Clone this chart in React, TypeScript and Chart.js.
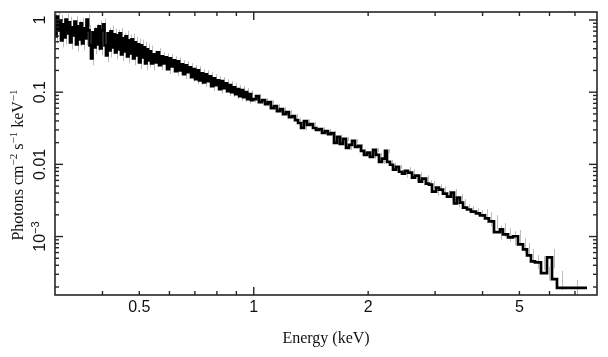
import React, { useEffect, useRef } from "react";
import { Chart, registerables } from "chart.js";
Chart.register(...registerables);

// Bin edges (keV): left edge of each bin, final entry = right edge of the last bin
const binEdges = [
  0.3, 0.3027, 0.3055, 0.3083, 0.3111, 0.3139, 0.3168, 0.3197, 0.3226, 0.3256, 0.3285, 0.3315,
  0.3346, 0.3376, 0.3407, 0.3438, 0.347, 0.3501, 0.3533, 0.3565, 0.3598, 0.3631, 0.3664, 0.3698,
  0.3731, 0.3765, 0.38, 0.3834, 0.3869, 0.3905, 0.394, 0.3976, 0.4013, 0.4049, 0.4086, 0.4124,
  0.4161, 0.4199, 0.4238, 0.4276, 0.4315, 0.4355, 0.4395, 0.4435, 0.4475, 0.4516, 0.4557, 0.4599,
  0.4641, 0.4683, 0.4726, 0.4769, 0.4813, 0.4857, 0.4901, 0.4946, 0.4991, 0.5037, 0.5083, 0.5129,
  0.5176, 0.5223, 0.5271, 0.5319,
  0.5367, 0.5432, 0.5499, 0.5566, 0.5634, 0.5703, 0.5772, 0.5843, 0.5914, 0.5986, 0.6059, 0.6133,
  0.6208, 0.6284, 0.6361, 0.6438, 0.6517, 0.6596, 0.6677, 0.6758, 0.6841, 0.6924, 0.7009, 0.7094,
  0.7181, 0.7268, 0.7357, 0.7447, 0.7537, 0.7629, 0.7723, 0.7817, 0.7912, 0.8009, 0.8106, 0.8205,
  0.8306, 0.8407, 0.8509, 0.8613, 0.8718, 0.8825, 0.8932, 0.9041, 0.9151, 0.9263, 0.9376, 0.949,
  0.9606, 0.9723, 0.9842, 0.9962,
  1.014, 1.032, 1.051, 1.071, 1.09, 1.11, 1.131, 1.151, 1.173, 1.194, 1.216, 1.238, 1.261, 1.284,
  1.308, 1.332, 1.356, 1.381, 1.406, 1.432, 1.458, 1.485, 1.512, 1.54, 1.568, 1.597, 1.626, 1.656,
  1.686, 1.717, 1.749, 1.781, 1.814, 1.847, 1.881, 1.915, 1.95, 1.986, 2.022, 2.06, 2.097, 2.136,
  2.175, 2.215, 2.242, 2.283, 2.325, 2.368, 2.411, 2.455, 2.5, 2.546, 2.609, 2.657, 2.722, 2.772,
  2.84, 2.892, 2.945, 3.017, 3.072, 3.147, 3.224, 3.303, 3.364, 3.426, 3.489, 3.553, 3.64, 3.729,
  3.843, 3.938, 4.059, 4.158, 4.286, 4.445, 4.526, 4.666, 4.809, 4.957, 5.11, 5.235, 5.363, 5.495,
  5.698, 5.909, 6.091, 6.278, 6.67, 7.53,
];

// Flux (photons cm^-2 s^-1 keV^-1) in each bin
const flux = [
  1.049, 0.592, 1.117, 0.716, 0.984, 0.521, 0.867, 0.573, 1.016, 0.651, 0.924, 0.489,
  0.788, 0.611, 0.953, 0.459, 0.813, 0.538, 0.895, 0.474, 0.763, 0.555, 1.016, 0.716,
  0.445, 0.294, 0.672, 0.417, 0.739, 0.459, 0.813, 0.404, 0.716, 0.867, 0.445, 0.324,
  0.651, 0.379, 0.694, 0.417, 0.631, 0.356, 0.611, 0.392, 0.651, 0.334, 0.555, 0.368,
  0.592, 0.313, 0.521, 0.345, 0.538, 0.294, 0.489, 0.324, 0.459, 0.259, 0.445, 0.304,
  0.417, 0.251, 0.392, 0.276,
  0.368, 0.251, 0.334, 0.259, 0.356, 0.236, 0.313, 0.251, 0.304, 0.208, 0.294, 0.228,
  0.276, 0.195, 0.267, 0.201, 0.243, 0.177, 0.236, 0.189, 0.221, 0.161, 0.208, 0.151,
  0.201, 0.146, 0.183, 0.137, 0.177, 0.142, 0.166, 0.121, 0.156, 0.125, 0.146, 0.11,
  0.142, 0.114, 0.133, 0.103, 0.125, 0.1, 0.117, 0.0939, 0.11, 0.0881, 0.107, 0.0853,
  0.1, 0.0801, 0.0939, 0.0776,
  0.0801, 0.0881, 0.0728, 0.0776, 0.0683, 0.0728, 0.0601, 0.0641, 0.0547, 0.0583, 0.0497, 0.053,
  0.0452, 0.0467, 0.0411, 0.0374, 0.0319, 0.0398, 0.0351, 0.0362, 0.0319, 0.0299, 0.0309, 0.0272,
  0.029, 0.0263, 0.0272, 0.0198, 0.024, 0.0192, 0.0225, 0.0169, 0.0186, 0.0211, 0.0174, 0.018,
  0.0154, 0.0135, 0.0145, 0.0127, 0.0159, 0.0135, 0.0108, 0.012, 0.0154, 0.0108, 0.00988, 0.00843,
  0.00925, 0.0079, 0.00742, 0.00816, 0.00766, 0.00653, 0.00696, 0.00576, 0.00633, 0.0054, 0.00524,
  0.00419, 0.00476, 0.00447, 0.00393, 0.00358, 0.00406, 0.00287, 0.00347, 0.00296, 0.00252,
  0.00237, 0.00222, 0.00209, 0.00196, 0.00178, 0.00162, 0.00115, 0.00126, 0.00107, 0.000975,
  0.00101, 0.000779, 0.000665, 0.00055, 0.000454, 0.00044, 0.000312, 0.000516, 0.000257, 0.000194,
];

// Fractional 1-sigma error by energy band
const errBandUpper = [0.55, 1.0, 2.5, 4.0, 6.0, 100];
const errBandFrac = [0.2, 0.14, 0.07, 0.12, 0.22, 0.3];

const xMin = 0.3;
const xMax = 8;
const yMin = 1.55e-4;
const yMax = 1.29;

const xMajorTicks = [1];
const xMinorTicks = [0.4, 0.5, 0.6, 0.7, 0.8, 0.9, 2, 3, 4, 5, 6, 7];
const xLabelValues = [0.5, 1, 2, 5];
const xLabels = ["0.5", "1", "2", "5"];

const yMajorTicks = [0.001, 0.01, 0.1, 1];
const yMinorDecades = [0.0001, 0.001, 0.01, 0.1];
const yMinorMultipliers = [2, 3, 4, 5, 6, 7, 8, 9];
const yLabelValues = [0.001, 0.01, 0.1, 1];
type Part = { t: string; sup?: boolean };
const yLabels: Part[][] = [
  [{ t: "10" }, { t: "\u22123", sup: true }],
  [{ t: "0.01" }],
  [{ t: "0.1" }],
  [{ t: "1" }],
];

const xTitle = "Energy (keV)";
const yTitle: Part[] = [
  { t: "Photons cm" },
  { t: "\u22122", sup: true },
  { t: " s" },
  { t: "\u22121", sup: true },
  { t: " keV" },
  { t: "\u22121", sup: true },
];

const SANS = "'Liberation Sans', Arial, Helvetica, sans-serif";
const SERIF = "'Liberation Serif', 'Times New Roman', serif";

function drawRich(ctx: CanvasRenderingContext2D, parts: Part[], font: string, supFont: string, rise: number) {
  const widths = parts.map((p) => {
    ctx.font = p.sup ? supFont : font;
    return ctx.measureText(p.t).width;
  });
  const total = widths.reduce((a, b) => a + b, 0);
  let x = -total / 2;
  ctx.textAlign = "left";
  ctx.textBaseline = "alphabetic";
  parts.forEach((p, i) => {
    ctx.font = p.sup ? supFont : font;
    ctx.fillText(p.t, x, p.sup ? -rise : 0);
    x += widths[i];
  });
}

const framePlugin = {
  id: "spectrumFrame",
  beforeDatasetsDraw(chart: any) {
    const { ctx, chartArea: a, scales } = chart;
    const xs = scales.x;
    const ys = scales.y;
    ctx.save();
    ctx.beginPath();
    ctx.rect(a.left, a.top, a.right - a.left, a.bottom - a.top);
    ctx.clip();
    ctx.strokeStyle = "#bdbdbd";
    ctx.lineWidth = 1;
    for (let i = 0; i < flux.length; i++) {
      const c = Math.sqrt(binEdges[i] * binEdges[i + 1]);
      let f = errBandFrac[errBandFrac.length - 1];
      for (let k = 0; k < errBandUpper.length; k++) {
        if (c <= errBandUpper[k]) { f = errBandFrac[k]; break; }
      }
      const px = Math.round(xs.getPixelForValue(c)) + 0.5;
      const y1 = ys.getPixelForValue(flux[i] * (1 + f));
      const y2 = ys.getPixelForValue(flux[i] * (1 - f));
      ctx.beginPath();
      ctx.moveTo(px, y1);
      ctx.lineTo(px, y2);
      ctx.stroke();
    }
    ctx.restore();
  },
  afterDatasetsDraw(chart: any) {
    const { ctx, chartArea: a, scales } = chart;
    const xs = scales.x;
    const ys = scales.y;
    ctx.save();
    ctx.strokeStyle = "#262626";
    ctx.lineWidth = 1.6;
    ctx.strokeRect(a.left, a.top, a.right - a.left, a.bottom - a.top);

    const tick = (x1: number, y1: number, x2: number, y2: number) => {
      ctx.beginPath();
      ctx.moveTo(x1, y1);
      ctx.lineTo(x2, y2);
      ctx.stroke();
    };
    ctx.lineWidth = 1.4;
    xMinorTicks.forEach((v) => {
      const p = xs.getPixelForValue(v);
      tick(p, a.bottom, p, a.bottom - 4);
      tick(p, a.top, p, a.top + 4);
    });
    xMajorTicks.forEach((v) => {
      const p = xs.getPixelForValue(v);
      tick(p, a.bottom, p, a.bottom - 8);
      tick(p, a.top, p, a.top + 8);
    });
    yMinorDecades.forEach((d) => {
      yMinorMultipliers.forEach((m) => {
        const v = d * m;
        if (v < yMin || v > yMax) return;
        const p = ys.getPixelForValue(v);
        tick(a.left, p, a.left + 4, p);
        tick(a.right, p, a.right - 4, p);
      });
    });
    yMajorTicks.forEach((v) => {
      const p = ys.getPixelForValue(v);
      tick(a.left, p, a.left + 8, p);
      tick(a.right, p, a.right - 8, p);
    });

    ctx.fillStyle = "#111";
    ctx.font = `16px ${SANS}`;
    ctx.textAlign = "center";
    ctx.textBaseline = "alphabetic";
    xLabelValues.forEach((v, i) => {
      ctx.fillText(xLabels[i], xs.getPixelForValue(v), a.bottom + 17);
    });

    yLabelValues.forEach((v, i) => {
      const p = ys.getPixelForValue(v);
      ctx.save();
      ctx.translate(a.left - 10, p);
      ctx.rotate(-Math.PI / 2);
      drawRich(ctx, yLabels[i], `16px ${SANS}`, `11px ${SANS}`, 6);
      ctx.restore();
    });

    ctx.font = `16px ${SERIF}`;
    ctx.textAlign = "center";
    ctx.fillText(xTitle, (a.left + a.right) / 2, a.bottom + 48);

    ctx.save();
    ctx.translate(23, 165);
    ctx.rotate(-Math.PI / 2);
    drawRich(ctx, yTitle, `16px ${SERIF}`, `11px ${SERIF}`, 6);
    ctx.restore();

    ctx.restore();
  },
};

export default function App() {
  const ref = useRef<HTMLCanvasElement | null>(null);
  useEffect(() => {
    if (!ref.current) return;
    const points = flux.map((v, i) => ({ x: binEdges[i], y: v }));
    points.push({ x: binEdges[binEdges.length - 1], y: flux[flux.length - 1] });
    const chart = new Chart(ref.current, {
      type: "line",
      data: {
        datasets: [
          {
            data: points,
            stepped: "after",
            borderColor: "#000",
            borderWidth: 2.7,
            pointRadius: 0,
            fill: false,
            tension: 0,
          },
        ],
      },
      options: {
        responsive: false,
        animation: false,
        devicePixelRatio: 1,
        events: [],
        layout: { padding: { left: 55, right: 11, top: 12, bottom: 62 } },
        plugins: { legend: { display: false }, tooltip: { enabled: false } },
        scales: {
          x: { type: "logarithmic", min: xMin, max: xMax, display: false },
          y: { type: "logarithmic", min: yMin, max: yMax, display: false },
        },
      },
      plugins: [framePlugin],
    } as any);
    return () => chart.destroy();
  }, []);
  return (
    <div style={{ position: "absolute", left: 0, top: 0, width: 608, height: 357, background: "#fff" }}>
      <canvas ref={ref} width={608} height={357} style={{ display: "block" }} />
    </div>
  );
}
